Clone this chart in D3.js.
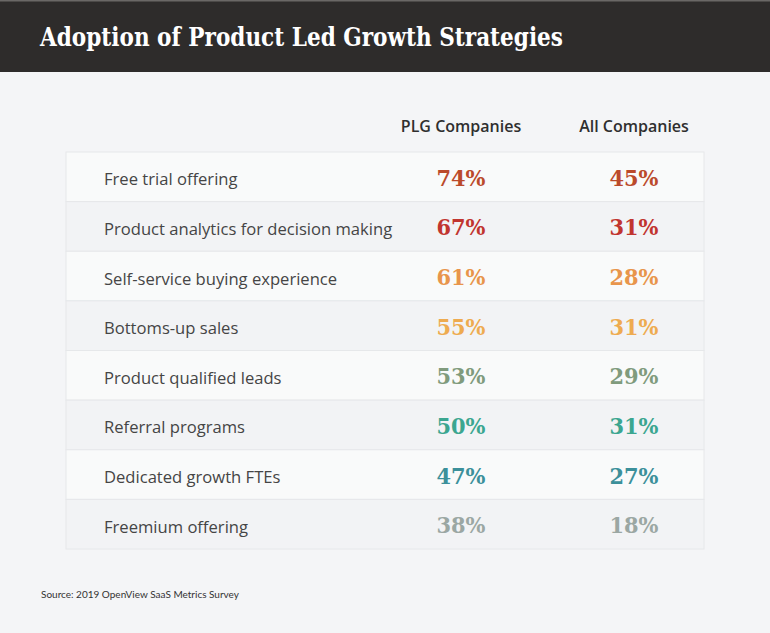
<!DOCTYPE html>
<html>
<head>
<meta charset="utf-8">
<script src="https://cdn.jsdelivr.net/npm/d3@7"></script>
<style>
  body { margin: 0; background: #f4f5f7; }
  svg { display: block; }
</style>
</head>
<body>
<div id="chart"></div>
<script>
  // chart data
  var title = "Adoption of Product Led Growth Strategies";
  var source = "Source: 2019 OpenView SaaS Metrics Survey";
  var columns = ["PLG Companies", "All Companies"];
  var strategies = [
    "Free trial offering",
    "Product analytics for decision making",
    "Self-service buying experience",
    "Bottoms-up sales",
    "Product qualified leads",
    "Referral programs",
    "Dedicated growth FTEs",
    "Freemium offering"
  ];
  var plgValues = [74, 67, 61, 55, 53, 50, 47, 38];
  var allValues = [45, 31, 28, 31, 29, 31, 27, 18];
  var rowColors = ["#bb4a2b", "#c1352f", "#e8954b", "#eeab50", "#809b7d", "#3ba690", "#3c909a", "#9ba7a3"];

  var width = 770, height = 633;

  var svg = d3.select("#chart").append("svg")
    .attr("width", width)
    .attr("height", height);

  // background and header bar
  svg.append("rect").attr("width", width).attr("height", height).attr("fill", "#f4f5f7");
  svg.append("rect").attr("width", width).attr("height", 72).attr("fill", "#2e2c2b");
  svg.append("rect").attr("width", width).attr("height", 1.5).attr("fill", "#6a6866");

  svg.append("text")
    .attr("x", 40)
    .attr("y", 46)
    .attr("fill", "#fff")
    .attr("font-family", "'DejaVu Serif', serif")
    .attr("font-weight", "bold")
    .attr("font-size", 26)
    .attr("textLength", 523)
    .attr("lengthAdjust", "spacingAndGlyphs")
    .text(title);

  // scales for rows and columns
  var y = d3.scaleBand()
    .domain(strategies)
    .range([152, 549]);

  var x = d3.scaleOrdinal()
    .domain(columns)
    .range([461, 634]);

  // column headers
  svg.selectAll(".col-head")
    .data(columns)
    .join("text")
    .attr("class", "col-head")
    .attr("x", d => x(d))
    .attr("y", 132)
    .attr("text-anchor", "middle")
    .attr("fill", "#2f2f2f")
    .attr("font-family", "'Open Sans', sans-serif")
    .attr("font-weight", 600)
    .attr("font-size", 16)
    .text(d => d);

  // table rows
  var rows = svg.selectAll(".row")
    .data(strategies)
    .join("g")
    .attr("class", "row")
    .attr("transform", d => "translate(0," + y(d) + ")");

  rows.append("rect")
    .attr("x", 66)
    .attr("width", 638)
    .attr("height", y.bandwidth())
    .attr("fill", (d, i) => i % 2 === 0 ? "#f9fafa" : "#f2f3f5")
    .attr("stroke", "#e6e8ea")
    .attr("stroke-width", 1);

  rows.append("text")
    .attr("x", 104)
    .attr("y", y.bandwidth() / 2 + 8.5)
    .attr("fill", "#454545")
    .attr("font-family", "'Open Sans', sans-serif")
    .attr("font-weight", 400)
    .attr("font-size", 16.6)
    .text(d => d);

  // value cells for each column
  var series = [plgValues, allValues];
  series.forEach(function(values, c) {
    rows.append("text")
      .attr("x", x(columns[c]))
      .attr("y", y.bandwidth() / 2 + 9)
      .attr("text-anchor", "middle")
      .attr("fill", (d, i) => rowColors[i])
      .attr("font-family", "'DejaVu Serif', serif")
      .attr("font-weight", "bold")
      .attr("font-size", 22)
      .attr("textLength", 49)
      .attr("lengthAdjust", "spacingAndGlyphs")
      .text((d, i) => values[i] + "%");
  });

  // source note
  svg.append("text")
    .attr("x", 41)
    .attr("y", 598)
    .attr("fill", "#333")
    .attr("font-family", "Lato, sans-serif")
    .attr("font-size", 10)
    .text(source);
</script>
</body>
</html>
